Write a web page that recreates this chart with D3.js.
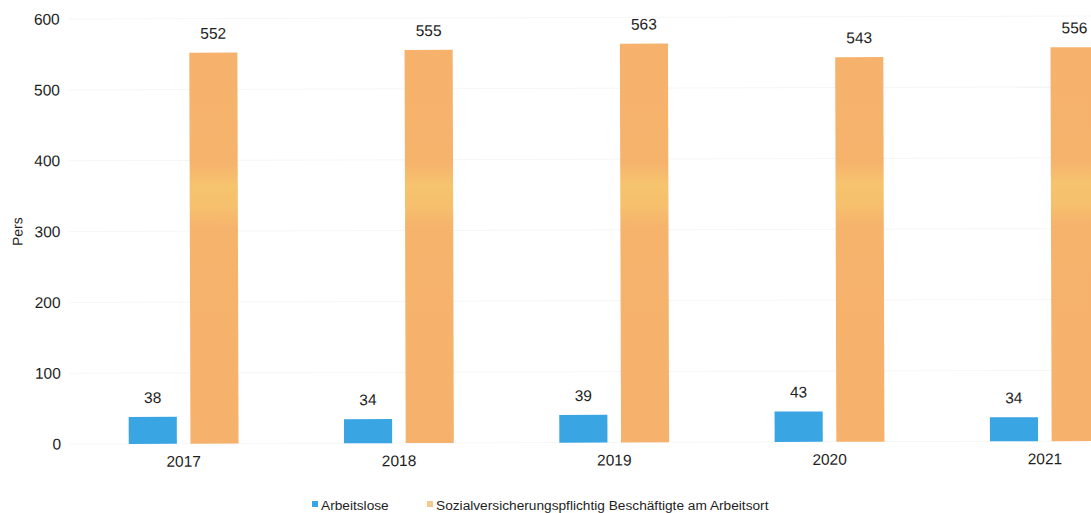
<!DOCTYPE html>
<html>
<head>
<meta charset="utf-8">
<script src="https://cdn.jsdelivr.net/npm/d3@7"></script>
<style>
  html, body { margin: 0; padding: 0; background: #fff; }
  svg { display: block; font-family: "Liberation Sans", Arial, sans-serif; }
</style>
</head>
<body>
<svg id="chart" width="1091" height="513"></svg>
<script>
// Jahre und Werte (Personen)
const years = ["2017", "2018", "2019", "2020", "2021"];
const arbeitslose = [38, 34, 39, 43, 34];
const beschaeftigte = [552, 555, 563, 543, 556];
const seriesNames = ["Arbeitslose", "Sozialversicherungspflichtig Beschäftigte am Arbeitsort"];
const seriesColors = ["#3aa5e3", "#f6b26c"];
const yTicks = [0, 100, 200, 300, 400, 500, 600];

const svg = d3.select("#chart");
const W = 1091, H = 513;

const x = d3.scaleBand().domain(years).range([76, 1152.5]).paddingInner(0.49).paddingOuter(0.245);
const x1 = d3.scaleBand().domain(seriesNames).range([0, x.bandwidth()]).paddingInner(0.22);
const y = d3.scaleLinear().domain([0, 600]).range([444, 19]);

// Leichter Farbverlauf im Balken (hellere Zone um 300–380)
const defs = svg.append("defs");
const grad = defs.append("linearGradient")
  .attr("id", "orangeGrad")
  .attr("gradientUnits", "userSpaceOnUse")
  .attr("x1", 0).attr("x2", 0).attr("y1", y(600)).attr("y2", y(0));
const off = v => (y(v) - y(600)) / (y(0) - y(600));
[[0, "#f6b26c"], [off(395), "#f6b36c"],
 [off(365), "#f6c36e"],
 [off(335), "#f6c06d"],
 [off(305), "#f6b36c"], [1, "#f6b26c"]]
  .forEach(([o, c]) => grad.append("stop").attr("offset", o).attr("stop-color", c));

const g = svg.append("g").attr("transform", "rotate(-0.17, 100, 444)");

// Gitterlinien
g.append("g")
  .selectAll("line")
  .data(yTicks)
  .join("line")
  .attr("x1", 70).attr("x2", W + 20)
  .attr("y1", d => y(d)).attr("y2", d => y(d))
  .attr("stroke", "#f6f6f6").attr("stroke-width", 1);

// Y-Achse (nur Beschriftung)
const yAxis = g.append("g")
  .attr("transform", "translate(61,0)")
  .call(d3.axisLeft(y).tickValues(yTicks).tickSize(0).tickPadding(0));
yAxis.select(".domain").remove();
yAxis.selectAll("text")
  .attr("font-size", 15.5).attr("fill", "#1e1e1e")
  .attr("font-family", "'Liberation Sans', Arial, sans-serif");

// X-Achse (Jahre)
const xAxis = g.append("g")
  .attr("transform", `translate(0,${y(0)})`)
  .call(d3.axisBottom(x).tickSize(0).tickPadding(12));
xAxis.select(".domain").remove();
xAxis.selectAll("text")
  .attr("font-size", 15.5).attr("fill", "#1e1e1e")
  .attr("font-family", "'Liberation Sans', Arial, sans-serif");

// Achsentitel
g.append("text")
  .attr("transform", `translate(23,${y(300)}) rotate(-90)`)
  .attr("text-anchor", "middle")
  .attr("font-size", 14).attr("fill", "#1e1e1e")
  .text("Pers");

// Balken
const rows = years.map((yr, i) => ({ year: yr, values: [arbeitslose[i], beschaeftigte[i]] }));
const groups = g.append("g").selectAll("g")
  .data(rows)
  .join("g")
  .attr("transform", d => `translate(${x(d.year)},0)`);

const cells = groups.selectAll("g")
  .data(d => d.values.map((v, k) => ({ name: seriesNames[k], k, v })))
  .join("g");

cells.append("rect")
  .attr("x", d => x1(d.name))
  .attr("width", x1.bandwidth())
  .attr("y", d => y(d.v))
  .attr("height", d => y(0) - y(d.v))
  .attr("fill", d => d.k === 0 ? seriesColors[0] : "url(#orangeGrad)");

cells.append("text")
  .attr("x", d => x1(d.name) + x1.bandwidth() / 2)
  .attr("y", d => y(d.v) - 14)
  .attr("text-anchor", "middle")
  .attr("font-size", 15.5).attr("fill", "#1e1e1e")
  .text(d => d.v);

// Legende
const legend = svg.append("g").attr("transform", "translate(312,505)");
const legendX = [0, 115];
seriesNames.forEach((name, k) => {
  const lg = legend.append("g").attr("transform", `translate(${legendX[k]},0)`);
  lg.append("rect").attr("x", 0).attr("y", -4).attr("width", 6).attr("height", 6)
    .attr("fill", k === 0 ? seriesColors[0] : "#f5c890");
  lg.append("text").attr("x", 9).attr("y", 0).attr("dy", "0.35em")
    .attr("font-size", 13.7).attr("fill", "#1e1e1e").text(name);
});
</script>
</body>
</html>
